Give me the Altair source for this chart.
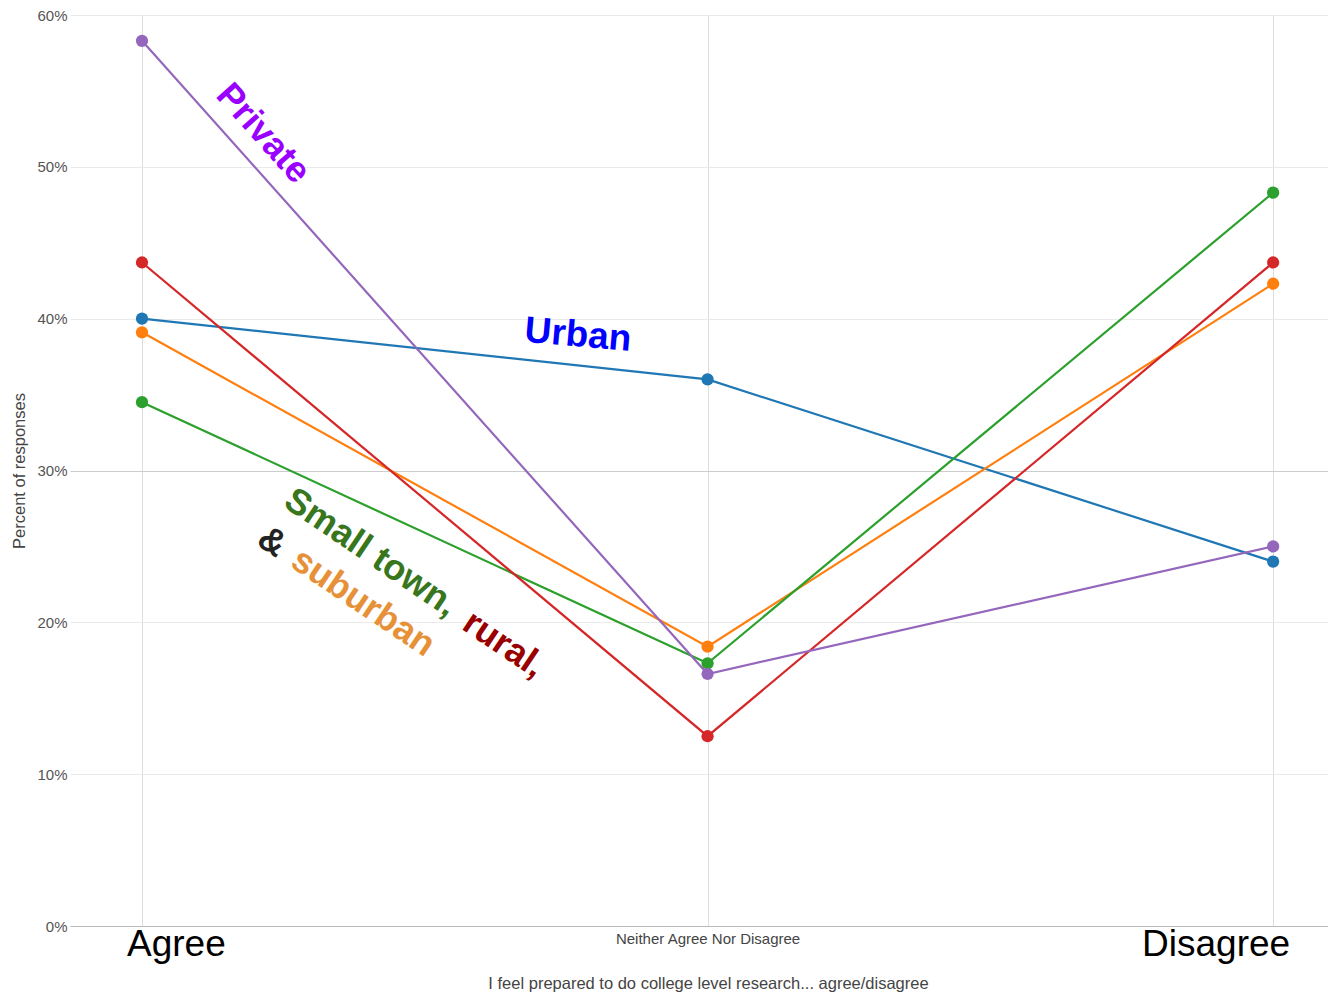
import altair as alt
import pandas as pd

categories = ["Agree", "Neither Agree Nor Disagree", "Disagree"]
series_names = ["Urban", "Suburban", "Small town", "Rural", "Private"]
urban = [40.0, 36.0, 24.0]
suburban = [39.1, 18.4, 42.3]
small_town = [34.5, 17.3, 48.3]
rural = [43.7, 12.5, 43.7]
private = [58.3, 16.6, 25.0]
y_ticks = [0, 10, 20, 30, 40, 50, 60]

series_values = [urban, suburban, small_town, rural, private]
colors = ["#1f77b4", "#ff7f0e", "#2ca02c", "#d62728", "#9467bd"]

rows = []
for name, vals in zip(series_names, series_values):
    for i, (cat, v) in enumerate(zip(categories, vals)):
        rows.append({"series": name, "idx": i, "category": cat, "pct": v})
df = pd.DataFrame(rows)

FONT = "Liberation Sans"
xscale = alt.Scale(domain=[-0.1273, 2.097], nice=False, zero=False)
yscale = alt.Scale(domain=[0, 60], nice=False, zero=True)
color_scale = alt.Scale(domain=series_names, range=colors)

label_expr = "datum.value == 1 ? '" + categories[1] + "' : ''"

x_axis = alt.Axis(
    values=[0, 1, 2],
    labelExpr=label_expr,
    labelLimit=600,
    title="I feel prepared to do college level research... agree/disagree",
    titleLimit=1000,
    titleX=638,
    grid=True,
    gridColor="#dddddd",
    ticks=False,
    domainColor="#bbbbbb",
    labelFont=FONT,
    labelFontSize=15,
    labelColor="#444444",
    labelPadding=5,
    titleFont=FONT,
    titleFontSize=16.5,
    titleFontWeight="normal",
    titleColor="#444444",
    titlePadding=29,
)
y_axis = alt.Axis(
    values=y_ticks,
    labelExpr="datum.value + '%'",
    title="Percent of responses",
    domain=False,
    ticks=False,
    gridColor={"condition": {"test": "datum.value == 30", "value": "#cccccc"}, "value": "#eaeaea"},
    labelFont=FONT,
    labelFontSize=15,
    labelColor="#555555",
    labelPadding=3,
    titleFont=FONT,
    titleFontSize=16.5,
    titleFontWeight="normal",
    titleColor="#444444",
    titlePadding=9,
)

base = alt.Chart(df).encode(
    x=alt.X("idx:Q", scale=xscale, axis=x_axis),
    y=alt.Y("pct:Q", scale=yscale, axis=y_axis),
    color=alt.Color("series:N", scale=color_scale, legend=None),
    detail="series:N",
)

lines = base.mark_line(strokeWidth=2.2)
points = base.mark_circle(size=150, opacity=1)


def note(text, x, y, color, angle, size, align="center", baseline="middle", dx=0, dy=0, weight="bold"):
    d = pd.DataFrame({"idx": [x], "pct": [y], "t": [text]})
    return alt.Chart(d).mark_text(
        font=FONT,
        fontSize=size,
        fontWeight=weight,
        color=color,
        angle=angle,
        align=align,
        baseline=baseline,
        dx=dx,
        dy=dy,
    ).encode(
        x=alt.X("idx:Q", scale=xscale, axis=x_axis),
        y=alt.Y("pct:Q", scale=yscale, axis=y_axis),
        text="t:N",
    )


notes = [
    note("Private", 0.214, 52.2, "#9900ff", 48, 36),
    note("Urban", 0.771, 38.9, "#0000ff", 5, 37),
    note("Small town,", 0.405, 24.6, "#38761d", 34, 36),
    note("rural,", 0.640, 18.55, "#990000", 34, 36),
    note("&", 0.230, 25.3, "#222222", 34, 36),
    note("suburban", 0.391, 21.3, "#e69138", 34, 36),
    note(categories[0], 0, 0, "#000000", 0, 37, align="left", baseline="alphabetic", dx=-15, dy=30, weight="normal"),
    note(categories[2], 2, 0, "#000000", 0, 37, align="right", baseline="alphabetic", dx=17, dy=30, weight="normal"),
]

chart = alt.layer(lines, points, *notes).properties(
    width=1258,
    height=911,
    autosize=alt.AutoSizeParams(type="none"),
    padding={"left": 62, "top": 7, "right": 0, "bottom": 67},
    background="white",
).configure_view(strokeWidth=0)

chart.save("out.html", embed_options={"renderer": "svg", "actions": False})
